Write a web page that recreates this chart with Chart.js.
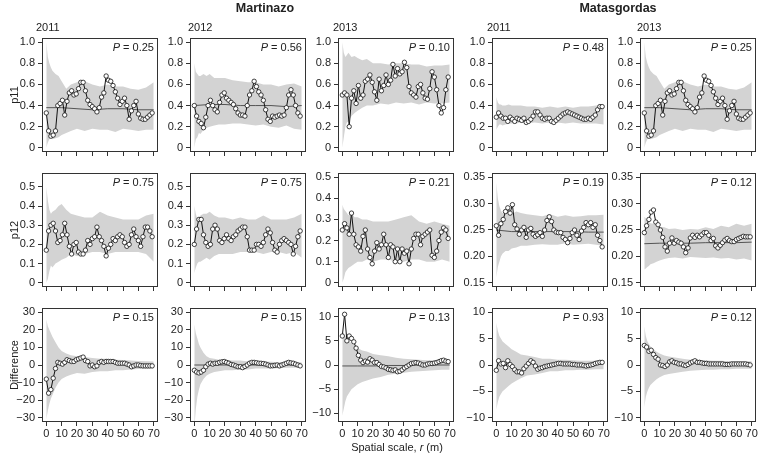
<!DOCTYPE html>
<html>
<head>
<meta charset="utf-8">
<script src="https://cdn.jsdelivr.net/npm/chart.js@4.4.1/dist/chart.umd.min.js"></script>
<style>
  body { margin: 0; background: #fff; }
  #fig { position: relative; width: 763px; height: 460px; overflow: hidden;
         font-family: 'Liberation Sans', Arial, sans-serif; color: #222; background: #fff; }
  #fig canvas { position: absolute; }
  .lbl { position: absolute; white-space: nowrap; font-size: 11px; line-height: 1; }
  .site { font-weight: bold; font-size: 12.5px; transform: translateX(-50%); }
  .pval { transform: translateX(-100%); }
  .ytitle { transform: translate(-50%, -50%) rotate(-90deg); }
  .xtitle { transform: translateX(-50%); }
</style>
</head>
<body>
<div id="fig"></div>
<script>
// spatial scale r (m) for the observed series, the envelopes and the mean lines
const rValues = [0, 1.5, 3, 4.5, 6, 7.5, 9, 10.5, 12, 13.5, 15, 16.5, 18, 19.5, 21, 22.5, 24, 25.5, 27, 28.5,
                 30, 31.5, 33, 34.5, 36, 37.5, 39, 40.5, 42, 43.5, 45, 46.5, 48, 49.5, 51, 52.5, 54, 55.5,
                 57, 58.5, 60, 61.5, 63, 64.5, 66, 67.5, 69];
const rEnvelope = [0, 1, 2, 3, 4, 6, 8, 10, 13, 16, 20, 25, 30, 35, 40, 45, 50, 55, 60, 65, 70];
const rMean = [0, 10, 20, 30, 40, 50, 60, 70];

const siteNames = ['Martinazo', 'Matasgordas'];
const years = ['2011', '2012', '2013', '2011', '2013'];
const rowTitles = ['p11', 'p12', 'Difference'];
const pP11 = ['0.25', '0.56', '0.10', '0.48', '0.25'];
const pP12 = ['0.75', '0.75', '0.21', '0.19', '0.12'];
const pDiff = ['0.15', '0.15', '0.13', '0.93', '0.12'];

const xTicks = [0, 10, 20, 30, 40, 50, 60, 70];
const xTickLabels = ['0', '10', '20', '30', '40', '50', '60', '70'];
const yTicksP11 = [0, 0.2, 0.4, 0.6, 0.8, 1.0];
const yLabelsP11 = ['0', '0.2', '0.4', '0.6', '0.8', '1.0'];
const yTicksP12 = [0, 0.1, 0.2, 0.3, 0.4, 0.5];
const yLabelsP12 = ['0', '0.1', '0.2', '0.3', '0.4', '0.5'];
const yTicksP12b = [0.15, 0.20, 0.25, 0.30, 0.35];
const yLabelsP12b = ['0.15', '0.20', '0.25', '0.30', '0.35'];
const yTicksDiff30 = [-30, -20, -10, 0, 10, 20, 30];
const yLabelsDiff30 = ['\u221230', '\u221220', '\u221210', '0', '10', '20', '30'];
const yTicksDiff10 = [-10, -5, 0, 5, 10];
const yLabelsDiff10 = ['\u221210', '\u22125', '0', '5', '10'];

// ---- p11 ----
const mart2011P11 = [0.33, 0.16, 0.11, 0.12, 0.16, 0.40, 0.42, 0.45, 0.31, 0.44, 0.52, 0.54, 0.50, 0.51, 0.56, 0.62,
                     0.62, 0.54, 0.45, 0.41, 0.39, 0.37, 0.34, 0.38, 0.48, 0.52, 0.68, 0.64, 0.63, 0.59, 0.53, 0.47,
                     0.41, 0.44, 0.47, 0.40, 0.27, 0.35, 0.40, 0.44, 0.32, 0.28, 0.27, 0.27, 0.29, 0.31, 0.33];
const mart2011P11Mean = [0.38, 0.38, 0.37, 0.36, 0.37, 0.37, 0.36, 0.36];
const mart2011P11Lo = [0.00, 0.05, 0.08, 0.09, 0.08, 0.09, 0.10, 0.12, 0.14, 0.16, 0.18, 0.16, 0.18, 0.17, 0.17, 0.15, 0.18, 0.17, 0.16, 0.17, 0.17];
const mart2011P11Hi = [1.00, 0.86, 0.80, 0.76, 0.73, 0.70, 0.68, 0.63, 0.56, 0.60, 0.62, 0.63, 0.60, 0.58, 0.60, 0.58, 0.58, 0.56, 0.55, 0.57, 0.62];

const mart2012P11 = [0.40, 0.30, 0.25, 0.23, 0.19, 0.29, 0.40, 0.45, 0.40, 0.36, 0.34, 0.43, 0.50, 0.52, 0.47, 0.45,
                     0.43, 0.41, 0.37, 0.33, 0.31, 0.31, 0.30, 0.40, 0.50, 0.54, 0.63, 0.58, 0.53, 0.50, 0.45, 0.36,
                     0.27, 0.25, 0.30, 0.29, 0.30, 0.31, 0.30, 0.31, 0.38, 0.50, 0.55, 0.50, 0.40, 0.33, 0.30];
const mart2012P11Mean = [0.40, 0.41, 0.41, 0.40, 0.40, 0.40, 0.39, 0.40];
const mart2012P11Lo = [0.00, 0.08, 0.10, 0.14, 0.13, 0.17, 0.19, 0.20, 0.21, 0.22, 0.22, 0.23, 0.23, 0.22, 0.21, 0.22, 0.20, 0.19, 0.21, 0.18, 0.17];
const mart2012P11Hi = [0.80, 0.72, 0.70, 0.68, 0.68, 0.70, 0.68, 0.70, 0.66, 0.66, 0.66, 0.64, 0.63, 0.62, 0.62, 0.60, 0.60, 0.58, 0.60, 0.61, 0.58];

const mart2013P11 = [0.50, 0.52, 0.50, 0.20, 0.47, 0.54, 0.42, 0.59, 0.47, 0.50, 0.63, 0.65, 0.69, 0.62, 0.53, 0.45,
                     0.65, 0.54, 0.59, 0.69, 0.60, 0.64, 0.79, 0.68, 0.75, 0.70, 0.72, 0.81, 0.76, 0.58, 0.52, 0.50,
                     0.48, 0.58, 0.60, 0.52, 0.47, 0.46, 0.56, 0.72, 0.67, 0.55, 0.40, 0.33, 0.38, 0.55, 0.67];
const mart2013P11Lo = [0.00, 0.10, 0.20, 0.24, 0.25, 0.30, 0.33, 0.35, 0.38, 0.40, 0.40, 0.42, 0.41, 0.43, 0.42, 0.43, 0.41, 0.43, 0.42, 0.42, 0.43];
const mart2013P11Hi = [1.00, 0.90, 0.86, 0.88, 0.90, 0.86, 0.87, 0.85, 0.83, 0.84, 0.80, 0.80, 0.79, 0.80, 0.80, 0.79, 0.79, 0.77, 0.78, 0.78, 0.79];

const mata2011P11 = [0.29, 0.33, 0.30, 0.28, 0.28, 0.25, 0.29, 0.27, 0.25, 0.28, 0.27, 0.26, 0.28, 0.24, 0.25, 0.27,
                     0.30, 0.34, 0.34, 0.31, 0.28, 0.27, 0.28, 0.28, 0.25, 0.24, 0.26, 0.28, 0.30, 0.32, 0.33, 0.34,
                     0.33, 0.32, 0.31, 0.30, 0.29, 0.28, 0.27, 0.27, 0.28, 0.27, 0.29, 0.31, 0.36, 0.39, 0.39];
const mata2011P11Lo = [0.17, 0.20, 0.22, 0.22, 0.21, 0.22, 0.23, 0.23, 0.23, 0.24, 0.23, 0.24, 0.23, 0.24, 0.24, 0.23, 0.24, 0.23, 0.23, 0.23, 0.22];
const mata2011P11Hi = [0.48, 0.43, 0.41, 0.41, 0.40, 0.40, 0.41, 0.40, 0.40, 0.40, 0.39, 0.39, 0.38, 0.39, 0.38, 0.39, 0.38, 0.39, 0.39, 0.40, 0.40];

// the Matasgordas 2013 p11 panel in the figure repeats the Martinazo 2011 curve
const mata2013P11 = mart2011P11;
const mata2013P11Mean = mart2011P11Mean;
const mata2013P11Lo = mart2011P11Lo;
const mata2013P11Hi = mart2011P11Hi;

// ---- p12 ----
const mart2011P12 = [0.17, 0.27, 0.30, 0.31, 0.27, 0.21, 0.22, 0.25, 0.31, 0.25, 0.19, 0.15, 0.20, 0.21, 0.16, 0.15,
                     0.15, 0.17, 0.22, 0.20, 0.23, 0.24, 0.29, 0.24, 0.22, 0.19, 0.14, 0.18, 0.20, 0.23, 0.22, 0.24,
                     0.25, 0.24, 0.21, 0.19, 0.20, 0.25, 0.28, 0.24, 0.22, 0.19, 0.24, 0.29, 0.29, 0.27, 0.24];
const mart2011P12Lo = [0.00, 0.02, 0.06, 0.09, 0.08, 0.10, 0.11, 0.12, 0.13, 0.15, 0.14, 0.15, 0.16, 0.16, 0.15, 0.16, 0.16, 0.16, 0.16, 0.15, 0.11];
const mart2011P12Hi = [0.50, 0.43, 0.38, 0.36, 0.37, 0.38, 0.40, 0.41, 0.38, 0.36, 0.35, 0.34, 0.34, 0.37, 0.35, 0.34, 0.33, 0.33, 0.33, 0.35, 0.36];

const mart2012P12 = [0.20, 0.28, 0.33, 0.33, 0.25, 0.21, 0.19, 0.20, 0.28, 0.30, 0.28, 0.22, 0.21, 0.23, 0.25, 0.23,
                     0.22, 0.24, 0.25, 0.27, 0.28, 0.29, 0.29, 0.24, 0.17, 0.17, 0.17, 0.20, 0.20, 0.19, 0.21, 0.25,
                     0.28, 0.26, 0.21, 0.17, 0.16, 0.20, 0.22, 0.23, 0.22, 0.21, 0.20, 0.15, 0.19, 0.24, 0.27];
const mart2012P12Lo = [0.05, 0.08, 0.10, 0.11, 0.11, 0.12, 0.13, 0.12, 0.14, 0.15, 0.15, 0.15, 0.16, 0.16, 0.16, 0.15, 0.16, 0.16, 0.15, 0.16, 0.13];
const mart2012P12Hi = [0.40, 0.36, 0.33, 0.34, 0.35, 0.36, 0.36, 0.37, 0.35, 0.34, 0.34, 0.33, 0.34, 0.33, 0.33, 0.35, 0.33, 0.33, 0.33, 0.34, 0.36];

const mart2013P12 = [0.25, 0.28, 0.26, 0.23, 0.33, 0.23, 0.18, 0.17, 0.15, 0.22, 0.25, 0.16, 0.12, 0.09, 0.15, 0.19,
                     0.16, 0.18, 0.23, 0.18, 0.12, 0.18, 0.17, 0.10, 0.16, 0.10, 0.16, 0.14, 0.15, 0.09, 0.16, 0.21,
                     0.23, 0.23, 0.18, 0.22, 0.23, 0.24, 0.25, 0.13, 0.12, 0.15, 0.20, 0.24, 0.26, 0.25, 0.21];
const mart2013P12Lo = [0.00, 0.02, 0.05, 0.06, 0.07, 0.08, 0.09, 0.10, 0.10, 0.11, 0.10, 0.11, 0.11, 0.10, 0.10, 0.11, 0.11, 0.10, 0.10, 0.11, 0.10];
const mart2013P12Hi = [0.37, 0.35, 0.34, 0.33, 0.32, 0.33, 0.31, 0.31, 0.30, 0.30, 0.29, 0.29, 0.29, 0.30, 0.31, 0.32, 0.29, 0.28, 0.29, 0.28, 0.27];

const mata2011P12 = [0.258, 0.240, 0.262, 0.270, 0.285, 0.292, 0.282, 0.298, 0.260, 0.252, 0.242, 0.250, 0.255, 0.236, 0.250, 0.253,
                     0.242, 0.238, 0.241, 0.245, 0.238, 0.250, 0.268, 0.275, 0.266, 0.250, 0.246, 0.245, 0.245, 0.236, 0.232, 0.226,
                     0.234, 0.245, 0.250, 0.240, 0.232, 0.248, 0.255, 0.264, 0.260, 0.264, 0.255, 0.260, 0.240, 0.230, 0.218];
const mata2011P12Mean = [0.250, 0.247, 0.247, 0.247, 0.247, 0.247, 0.246, 0.246];
const mata2011P12Lo = [0.160, 0.180, 0.190, 0.200, 0.205, 0.210, 0.210, 0.215, 0.217, 0.220, 0.220, 0.222, 0.223, 0.222, 0.222, 0.225, 0.222, 0.223, 0.224, 0.222, 0.220];
const mata2011P12Hi = [0.340, 0.310, 0.295, 0.287, 0.282, 0.286, 0.283, 0.280, 0.285, 0.282, 0.280, 0.278, 0.276, 0.280, 0.275, 0.278, 0.275, 0.276, 0.278, 0.278, 0.279];

const mata2013P12 = [0.245, 0.258, 0.270, 0.284, 0.288, 0.265, 0.260, 0.250, 0.236, 0.218, 0.210, 0.225, 0.235, 0.225, 0.230, 0.227,
                     0.225, 0.218, 0.207, 0.216, 0.235, 0.240, 0.236, 0.240, 0.237, 0.241, 0.245, 0.245, 0.240, 0.230, 0.234, 0.220,
                     0.216, 0.221, 0.226, 0.231, 0.234, 0.230, 0.228, 0.228, 0.232, 0.234, 0.236, 0.238, 0.237, 0.237, 0.237];
const mata2013P12Mean = [0.224, 0.225, 0.225, 0.225, 0.226, 0.226, 0.226, 0.227];
const mata2013P12Lo = [0.175, 0.177, 0.180, 0.182, 0.185, 0.187, 0.190, 0.192, 0.195, 0.197, 0.198, 0.196, 0.199, 0.198, 0.197, 0.198, 0.196, 0.197, 0.194, 0.196, 0.192];
const mata2013P12Hi = [0.275, 0.272, 0.268, 0.265, 0.263, 0.262, 0.258, 0.256, 0.255, 0.252, 0.253, 0.250, 0.252, 0.251, 0.255, 0.252, 0.258, 0.255, 0.262, 0.258, 0.262];

// ---- Difference ----
const mart2011Diff = [-8, -16, -14, -7.5, -2, 1.5, 1, 0.5, 1.5, 3, 2.5, 2, 2, 3, 3.5, 4,
                      4.5, 2.5, 2, -0.5, 0, -1, -0.5, 1.5, 2, 1.5, 2, 2, 2, 2, 1.5, 1,
                      1, 1, 1, 0.5, 0, -1, -0.5, 0, 0, -0.3, -0.5, -0.5, -0.5, -0.5, -0.5];
const mart2011DiffLo = [-31, -26, -22, -19, -17, -13, -10, -8, -6.5, -5.5, -4.5, -5, -4, -3.5, -3.5, -3, -3, -2.5, -2.3, -2.2, -2];
const mart2011DiffHi = [26, 22, 20, 18, 16, 13, 10, 8, 6.5, 5.5, 5, 4.5, 4, 3.5, 3.5, 3, 2.8, 2.5, 2.3, 2.2, 2];

const mart2012Diff = [-3, -4, -4.5, -4, -3, -1, 0.5, 1, 0.5, 1, 1, 1.5, 1.8, 2, 1.5, 1,
                      0.3, 0, -0.5, -1, -1, -1.5, -0.8, 0, 1, 1.5, 1.5, 1.3, 1, 1, 0.8, 0.5,
                      0, -0.5, -0.4, -0.2, 0, -0.5, 0, 0.5, 1, 1.5, 1.2, 1, 0.5, 0, -0.5];
const mart2012DiffMean = [0, 0, 0, 0, 0, 0, 0, 0];
const mart2012DiffLo = [-36, -25, -18, -14, -11, -8, -6, -5, -4, -3.5, -3, -3, -2.5, -2.5, -2, -2, -2, -1.8, -1.5, -1.5, -1.5];
const mart2012DiffHi = [23, 18, 15, 12, 10, 7, 5, 4, 3.5, 3, 3, 2.5, 2.5, 2, 2, 2, 1.8, 1.5, 1.5, 1.5, 1.5];

const mart2013Diff = [6, 10.5, 5, 6, 5.5, 4.8, 3.5, 2, 1, 0.5, 0.8, 0.6, 1.3, 1, 0.5, 0.5,
                      0.1, -0.3, -0.4, -0.6, -0.9, -1, -1.1, -1, -1.4, -1.3, -1, -0.6, -0.3, 0, 0.3, 0.4,
                      0.5, 0.4, 0.2, 0, 0, 0.2, 0.3, 0.3, 0.4, 0.5, 0.7, 0.9, 1, 0.8, 0.7];
const mart2013DiffMean = [-0.2, -0.2, -0.2, -0.1, -0.1, 0, 0, 0];
const mart2013DiffLo = [-10.5, -9, -7.5, -6.5, -6, -5, -4.5, -4, -3.5, -3.2, -2.8, -2.5, -2, -1.8, -1.6, -1.4, -1.3, -1.2, -1.1, -1, -1];
const mart2013DiffHi = [7, 6.5, 6, 5.5, 5, 4.5, 4, 3.5, 3, 2.8, 2.3, 2, 1.8, 1.5, 1.3, 1.2, 1.1, 1, 1, 1, 1];

const mata2011Diff = [-1, 0.8, 0.2, 0.3, -0.5, 0.8, 0.1, -0.3, -0.9, -1.3, -1.3, -1.5, -0.7, -0.2, 0.3, 0.8,
                      0.5, -0.2, -0.8, -0.6, -0.5, -0.3, -0.2, -0.1, 0, 0.1, 0.2, 0.3, 0.3, 0.2, 0.2, 0.2,
                      0.2, 0.1, 0.1, 0, 0, 0, -0.1, -0.2, -0.1, 0, 0.1, 0.3, 0.4, 0.5, 0.5];
const mata2011DiffLo = [-8.5, -7, -6, -5.5, -5, -4.5, -4, -3.5, -3, -2.5, -2, -1.8, -1.5, -1.2, -1.2, -1, -1, -0.9, -0.9, -0.8, -0.8];
const mata2011DiffHi = [8, 6.5, 5.5, 5, 4.5, 4, 3.5, 3, 2.5, 2, 1.8, 1.5, 1.2, 1.2, 1, 1, 0.9, 0.8, 0.8, 0.8, 0.8];

const mata2013Diff = [3.7, 3.4, 2.6, 2.8, 2, 1.4, 1.1, 0, -0.1, -0.3, 0, 0.6, 0.8, 0.5, 0.4, 0.2,
                      0.2, 0, -0.1, 0.1, 0.4, 0.6, 0.8, 0.5, 0.5, 0.4, 0.3, 0.3, 0.2, 0.2, 0.2, 0.2,
                      0.2, 0.2, 0.2, 0.1, 0.1, 0.1, 0.2, 0.2, 0.2, 0.2, 0.2, 0.2, 0.2, 0.1, 0];
const mata2013DiffLo = [-8, -6, -5, -4.3, -3.8, -3.2, -2.7, -2.3, -1.9, -1.7, -1.5, -1.3, -1.1, -1, -0.9, -0.9, -0.8, -0.8, -0.7, -0.7, -0.7];
const mata2013DiffHi = [7.3, 5.5, 4.5, 4, 3.5, 3, 2.5, 2.2, 1.8, 1.6, 1.4, 1.2, 1, 1, 0.9, 0.8, 0.8, 0.7, 0.7, 0.7, 0.7];

// layout of the 3 x 5 grid (plot boxes in page pixels)
const colLeft = [42, 190, 338, 492, 640];
const rowTop = [38, 173, 308];
const boxW = 116, boxH = 114;
const padL = 40, padT = 12, padR = 6;
const fontFamily = "'Liberation Sans', Arial, sans-serif";

const p11Axis = { min: -0.04, max: 1.04, ticks: yTicksP11, labels: yLabelsP11 };
const p12Axis = { min: -0.022, max: 0.572, ticks: yTicksP12, labels: yLabelsP12 };
const p12AxisC = { min: -0.02, max: 0.52, ticks: yTicksP12, labels: yLabelsP12 };
const p12AxisM = { min: 0.142, max: 0.358, ticks: yTicksP12b, labels: yLabelsP12b };
const diffAxis30 = { min: -32.4, max: 32.4, ticks: yTicksDiff30, labels: yLabelsDiff30 };
const diffAxisC = { min: -11.8, max: 11.8, ticks: yTicksDiff10, labels: yLabelsDiff10 };
const diffAxis10 = { min: -10.8, max: 10.8, ticks: yTicksDiff10, labels: yLabelsDiff10 };

const panels = [
  { row: 0, col: 0, axis: p11Axis, p: pP11[0], s: mart2011P11, m: mart2011P11Mean, lo: mart2011P11Lo, hi: mart2011P11Hi },
  { row: 0, col: 1, axis: p11Axis, p: pP11[1], s: mart2012P11, m: mart2012P11Mean, lo: mart2012P11Lo, hi: mart2012P11Hi },
  { row: 0, col: 2, axis: p11Axis, p: pP11[2], s: mart2013P11, m: null, lo: mart2013P11Lo, hi: mart2013P11Hi },
  { row: 0, col: 3, axis: p11Axis, p: pP11[3], s: mata2011P11, m: null, lo: mata2011P11Lo, hi: mata2011P11Hi },
  { row: 0, col: 4, axis: p11Axis, p: pP11[4], s: mata2013P11, m: mata2013P11Mean, lo: mata2013P11Lo, hi: mata2013P11Hi },
  { row: 1, col: 0, axis: p12Axis, p: pP12[0], s: mart2011P12, m: null, lo: mart2011P12Lo, hi: mart2011P12Hi },
  { row: 1, col: 1, axis: p12Axis, p: pP12[1], s: mart2012P12, m: null, lo: mart2012P12Lo, hi: mart2012P12Hi },
  { row: 1, col: 2, axis: p12AxisC, p: pP12[2], s: mart2013P12, m: null, lo: mart2013P12Lo, hi: mart2013P12Hi },
  { row: 1, col: 3, axis: p12AxisM, p: pP12[3], s: mata2011P12, m: mata2011P12Mean, lo: mata2011P12Lo, hi: mata2011P12Hi },
  { row: 1, col: 4, axis: p12AxisM, p: pP12[4], s: mata2013P12, m: mata2013P12Mean, lo: mata2013P12Lo, hi: mata2013P12Hi },
  { row: 2, col: 0, axis: diffAxis30, p: pDiff[0], s: mart2011Diff, m: null, lo: mart2011DiffLo, hi: mart2011DiffHi },
  { row: 2, col: 1, axis: diffAxis30, p: pDiff[1], s: mart2012Diff, m: mart2012DiffMean, lo: mart2012DiffLo, hi: mart2012DiffHi },
  { row: 2, col: 2, axis: diffAxisC, p: pDiff[2], s: mart2013Diff, m: mart2013DiffMean, lo: mart2013DiffLo, hi: mart2013DiffHi },
  { row: 2, col: 3, axis: diffAxis10, p: pDiff[3], s: mata2011Diff, m: null, lo: mata2011DiffLo, hi: mata2011DiffHi },
  { row: 2, col: 4, axis: diffAxis10, p: pDiff[4], s: mata2013Diff, m: null, lo: mata2013DiffLo, hi: mata2013DiffHi }
];

const fig = document.getElementById('fig');

function addLabel(html, cls, left, top) {
  const d = document.createElement('div');
  d.className = 'lbl ' + cls;
  d.innerHTML = html;
  d.style.left = left + 'px';
  d.style.top = top + 'px';
  fig.appendChild(d);
}

// box round the plot region, like R's box()
const boxPlugin = {
  id: 'box',
  afterDatasetsDraw(chart) {
    const a = chart.chartArea, ctx = chart.ctx;
    ctx.save();
    ctx.strokeStyle = '#333';
    ctx.lineWidth = 1;
    ctx.strokeRect(Math.round(a.left) + 0.5, Math.round(a.top) + 0.5,
                   Math.round(a.right - a.left) - 1, Math.round(a.bottom - a.top) - 1);
    ctx.restore();
  }
};

const xy = (xs, ys) => xs.map((x, i) => ({ x: x, y: ys[i] }));

function makePanel(pan) {
  const bottomRow = pan.row === 2;
  const w = padL + boxW + padR;
  const h = padT + boxH + (bottomRow ? 26 : 10);
  const canvas = document.createElement('canvas');
  canvas.width = w;
  canvas.height = h;
  canvas.style.left = (colLeft[pan.col] - padL) + 'px';
  canvas.style.top = (rowTop[pan.row] - padT) + 'px';
  canvas.style.width = w + 'px';
  canvas.style.height = h + 'px';
  fig.appendChild(canvas);

  const datasets = [{
    data: xy(rValues, pan.s),
    borderColor: '#111', borderWidth: 1, tension: 0, fill: false,
    pointRadius: 2.2, pointBorderWidth: 0.8,
    pointBackgroundColor: '#fff', pointBorderColor: '#111'
  }];
  if (pan.m) {
    datasets.push({ data: xy(rMean, pan.m), borderColor: '#333', borderWidth: 0.8, pointRadius: 0, fill: false });
  }
  datasets.push({ data: xy(rEnvelope, pan.hi), borderColor: 'rgba(0,0,0,0)', borderWidth: 0,
                  pointRadius: 0, fill: '+1', backgroundColor: '#d3d3d3' });
  datasets.push({ data: xy(rEnvelope, pan.lo), borderColor: 'rgba(0,0,0,0)', borderWidth: 0,
                  pointRadius: 0, fill: false });

  const grid = { display: true, drawOnChartArea: false, drawTicks: true, tickLength: 4, color: '#333', lineWidth: 1 };

  new Chart(canvas, {
    type: 'line',
    data: { datasets: datasets },
    options: {
      responsive: false,
      animation: false,
      events: [],
      layout: { padding: { left: 0, top: padT, right: padR, bottom: 0 } },
      plugins: { legend: { display: false }, tooltip: { enabled: false } },
      scales: {
        x: {
          type: 'linear', min: -2.8, max: 72.8,
          afterBuildTicks: (s) => { s.ticks = xTicks.map((v) => ({ value: v })); },
          afterFit: (s) => { s.height = bottomRow ? 26 : 10; },
          grid: grid,
          border: { display: false },
          ticks: {
            autoSkip: false, maxRotation: 0, padding: 1,
            color: bottomRow ? '#222' : 'rgba(0,0,0,0)',
            font: { family: fontFamily, size: 11 },
            callback: (v, i) => xTickLabels[i]
          }
        },
        y: {
          type: 'linear', min: pan.axis.min, max: pan.axis.max,
          afterBuildTicks: (s) => { s.ticks = pan.axis.ticks.map((v) => ({ value: v })); },
          afterFit: (s) => { s.width = padL; },
          grid: grid,
          border: { display: false },
          ticks: {
            autoSkip: false, padding: 3, color: '#222',
            font: { family: fontFamily, size: 11 },
            callback: (v, i) => pan.axis.labels[i]
          }
        }
      }
    },
    plugins: [boxPlugin]
  });

  addLabel('<i>P</i> = ' + pan.p, 'pval', colLeft[pan.col] + boxW - 4, rowTop[pan.row] + 4);
}

panels.forEach(makePanel);

// titles
addLabel(siteNames[0], 'site', 265, 2);
addLabel(siteNames[1], 'site', 618, 2);
const yearLeft = [36, 188, 333, 487, 637];
years.forEach((y, i) => addLabel(y, '', yearLeft[i], 22));
rowTitles.forEach((t, i) => addLabel(t, 'ytitle', 14, rowTop[i] + boxH / 2));
addLabel('Spatial scale, <i>r</i> (m)', 'xtitle', 397, 442);
</script>
</body>
</html>
